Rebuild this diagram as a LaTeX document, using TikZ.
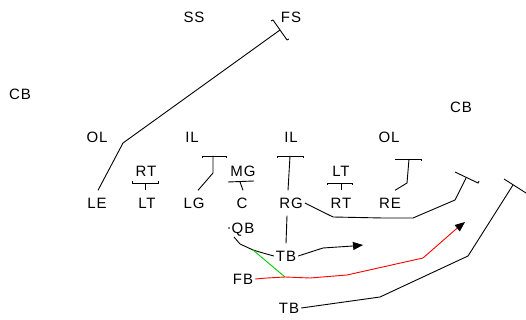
\documentclass[tikz,border=0pt]{standalone}
\usepackage{fontspec}
\setmainfont{Liberation Sans}[LetterSpace=6]
\usetikzlibrary{arrows.meta,calc}
\tikzset{
  player/.style={font=\fontsize{15}{15}\selectfont, inner xsep=2pt, inner ysep=7pt,
              text height=11pt, text depth=0pt},
  route/.style={line width=0.9pt, line join=round},
  runroute/.style={route, -{Triangle[length=10pt,width=8pt,color=black]}},
  bar/.style={line width=0.9pt}
}
\begin{document}
\begin{tikzpicture}[x=1pt,y=1pt]
\useasboundingbox (0,0) rectangle (526,320);
% defense
\node[player] (SS)  at (194,303) {SS};
\node[player] (FS)  at (291,303) {FS};
\node[player] (CBl) at (20,226)  {CB};
\node[player] (CBr) at (461,213) {CB};
\node[player] (OLl) at (97,183)  {OL};
\node[player] (ILl) at (192,183) {IL};
\node[player] (ILr) at (291,183) {IL};
\node[player] (OLr) at (389,183) {OL};
\node[player] (RTl) at (146,149) {RT};
\node[player] (MG)  at (243,149) {MG};
\node[player] (LTr) at (341,149) {LT};
% offense
\node[player] (LE)  at (97,117)  {LE};
\node[player] (LTl) at (147,117) {LT};
\node[player] (LG)  at (194,117) {LG};
\node[player] (C)   at (242,117) {C};
\node[player] (RG)  at (291,117) {RG};
\node[player] (RTr) at (341,117) {RT};
\node[player] (RE)  at (390,117) {RE};
\node[player] (QB)  at (243,92)  {QB};
\node[player] (TBm) at (286,64)  {TB};
\node[player] (FB)  at (243,41)  {FB};
\node[player] (TBb) at (289,12)  {TB};

% block points
\coordinate (bFS) at (280,290);
\coordinate (bLT) at (145,137);
\coordinate (bLG) at (213,164);
\coordinate (bC)  at (240,138);
\coordinate (bRG) at (290,164);
\coordinate (bRT) at (341,137);
\coordinate (bRE) at (409,161);
\coordinate (bRGr) at (466,142);
\coordinate (bTB) at (513,135);
\coordinate (arTB) at (363,75);
\coordinate (arFB) at (465,98);

% blocking assignments
\draw[route] ([xshift=1pt]LE.north) -- (123,177) -- (bFS);
\draw[bar] (273,300) -- (287,280);
\draw[bar] (273,300) -- (271,299) (287,280) -- (289,281);

\draw[route] ([xshift=-2pt]LTl.north) -- (bLT);
\draw[bar] (132,139) -- (132,137) -- (158,137) -- (158,139);

\draw[route] ([xshift=4pt]LG.north) -- (213,147) -- (bLG);
\draw[bar] (202,162) -- (202,164) -- (226,164) -- (226,162);

\draw[route] ([xshift=1pt]C.north) -- (bC);
\draw[bar] (228,138) -- (254,139);

\draw[route] ([xshift=-3pt]RG.north) -- (bRG);
\draw[bar] (277,162) -- (277,164) -- (303,164) -- (303,162);

\draw[route] (RTr.north) -- (bRT);
\draw[bar] (327,135) -- (327,137) -- (352,137) -- (352,135);

\draw[route] ([xshift=5pt]RE.north) -- (407,137) -- (bRE);
\draw[bar] (395,161) -- (421,161) -- (421,159);

\draw[route] (RG.east) -- (333,103) -- (383,102) -- (413,102) -- (455,120) -- (bRGr);
\draw[bar] (455,148) -- (478,137) -- (479,139);

\draw[route] (TBb.east) -- (380,23) -- (468,64) -- (bTB);
\draw[bar] (504,141) -- (526,127);

% backfield
\draw[route] ([xshift=-4pt]RG.south) -- (TBm.north);
\draw[runroute] (TBm.east) -- (323,72) -- (353,74) -- (arTB);
\fill (229,92) circle (0.8pt);
\draw[route] (234,83) -- (240,76) -- (253,70) -- (263,67) -- (TBm.west);
\draw[route, green!80!black] (253,70) -- (285,43);
\draw[runroute, red] (FB.east) -- (267,42) -- (285,43) -- (310,42) -- (347,45) -- (423,62) -- (455,90) -- (arFB);
\end{tikzpicture}
\end{document}
